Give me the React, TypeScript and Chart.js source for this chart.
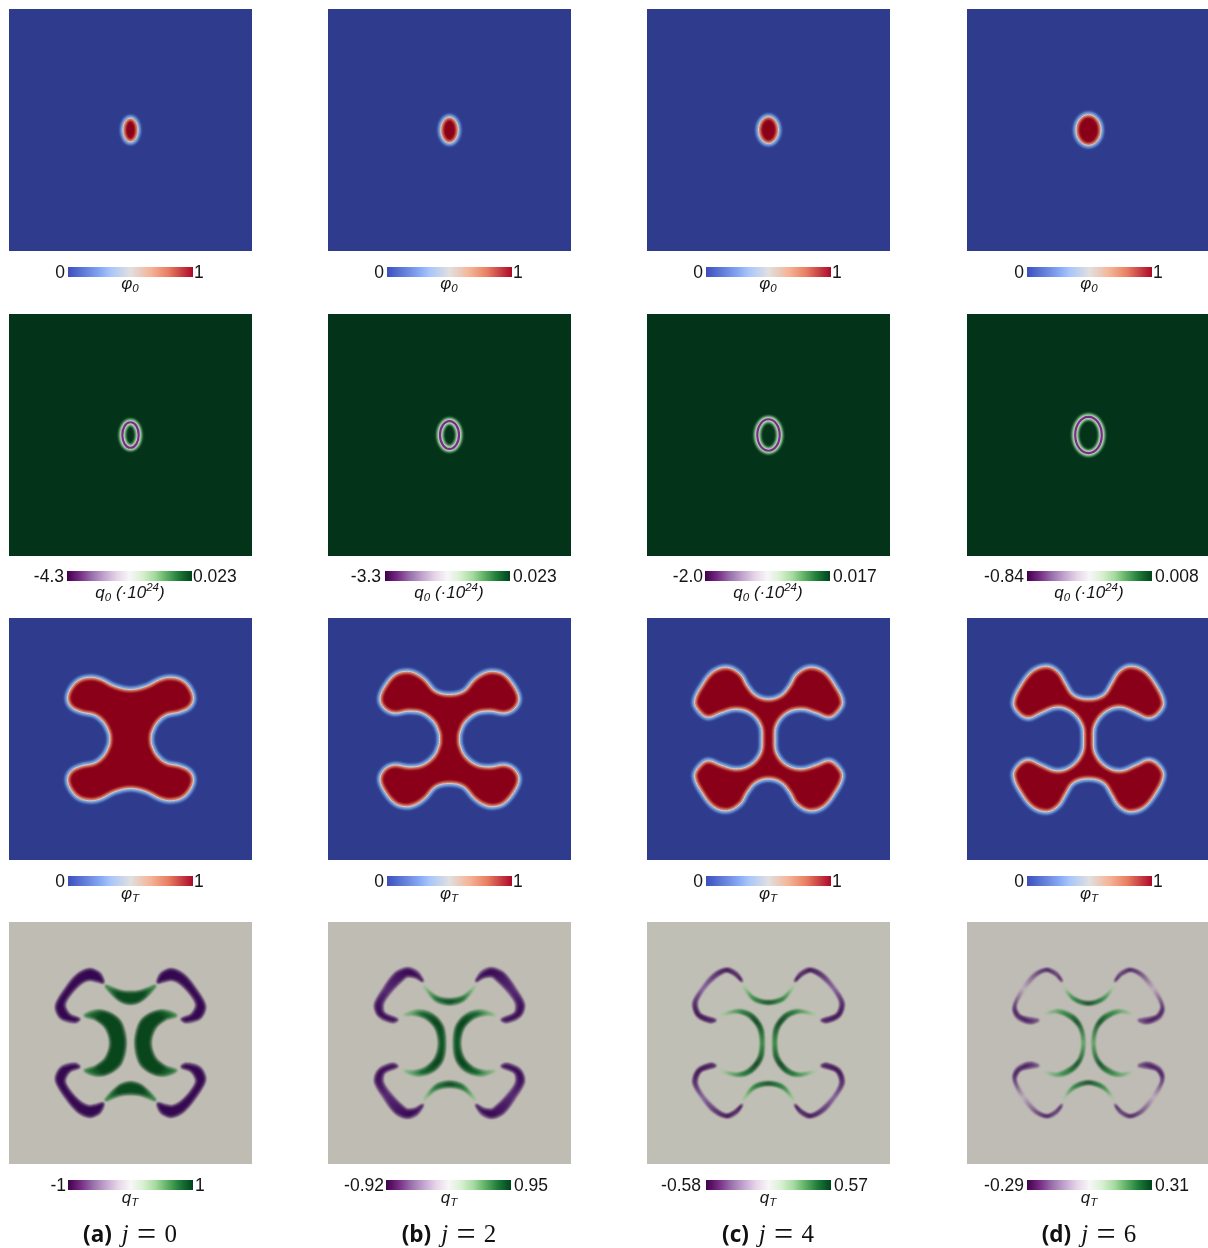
import React, { useEffect, useRef } from "react";
import { Chart, registerables } from "chart.js";

Chart.register(...registerables);

type Pt = number[];

// ---------- values (field units: one unit per image pixel of a panel) ----------
const columnLetters = ["a", "b", "c", "d"];
const snapshotIndex = [0, 2, 4, 6];

const phi0Quadrants: Pt[][] = [
  [[0, 12], [5.3, 8.5], [7.5, 0]],
  [[0, 13], [6.2, 9.2], [8.8, 0]],
  [[0, 13.5], [7, 9.6], [10, 0]],
  [[0, 15.5], [8.8, 11], [12.5, 0]],
];

const q0RingQuadrants: Pt[][] = [
  [[0, 12.8], [5.8, 9.1], [8.2, 0]],
  [[0, 14], [6.7, 9.9], [9.5, 0]],
  [[0, 15.8], [7.9, 11.2], [11.2, 0]],
  [[0, 18.2], [9.4, 12.9], [13.3, 0]],
];

const phiTQuadrantJ0: Pt[] = [[0, 49.7], [15.7, 53], [29, 59.7], [39, 62], [50.7, 59.7], [59, 52], [63, 41], [59, 32], [49, 27], [35.7, 24], [27, 17], [21.7, 7], [20.7, 0]];
const phiTQuadrantJ2: Pt[] = [[0, 44.7], [14, 48], [24, 59], [32, 65], [42, 68], [54, 65], [64, 54], [69.5, 41], [65.5, 31], [55.5, 26], [40.5, 28], [27, 26], [15.5, 17], [10.5, 6], [10, 0]];
const phiTQuadrantJ4: Pt[] = [[0, 40], [13, 44], [21.5, 54], [28, 65], [41, 72], [55, 68], [66.5, 54], [74, 37], [68, 26], [60, 21.7], [48, 26], [33, 30], [18, 26], [8, 14], [6.5, 0]];
const phiTQuadrantJ6: Pt[] = [[0, 40], [15, 44], [23, 55.7], [30, 67], [41, 73], [55, 69], [66.5, 55.7], [75, 37], [70, 26], [60, 21], [48, 26], [31.5, 32], [16.5, 27], [6.5, 14], [5, 0]];
const phiTQuadrants = [phiTQuadrantJ0, phiTQuadrantJ2, phiTQuadrantJ4, phiTQuadrantJ6];

const qTArmJ0: Pt[] = [[27, 60.8], [31, 70], [41, 74], [53, 68.5], [64.5, 55], [74.5, 37], [69.5, 25], [56, 21], [51, 24], [61, 28.5], [66, 38.5], [59.5, 50], [49.5, 60], [41, 63.5], [33, 62]];
const qTArmJ2: Pt[] = [[26.5, 62], [32, 71], [42, 75], [54, 70], [65.5, 55], [74.5, 38.5], [70.5, 27], [57, 21], [52, 23.5], [65.5, 30], [66.5, 40], [57, 53.5], [47, 63.5], [42, 67], [34, 66]];
const qTArmJ4: Pt[] = [[26.5, 62], [31.5, 70], [41.5, 74.5], [55, 68.5], [66.5, 55], [75, 40], [71, 27], [58, 21], [53, 23], [68, 28.5], [72, 40], [65, 53.5], [53, 66], [42, 72], [33, 68]];
const qTArmJ6: Pt[] = [[26.5, 62], [31.5, 70], [41.5, 74.5], [55, 68.5], [68, 52], [75, 35], [71, 25], [58, 20], [50, 23], [68, 27], [73, 37], [66.5, 50], [53, 67], [42, 72.5], [33, 68.5]];
const qTArms = [qTArmJ0, qTArmJ2, qTArmJ4, qTArmJ6];

const qTTopJ0: Pt[] = [[0, 51], [9.5, 52], [18, 55], [25, 57.5], [19, 50], [9.5, 42], [0, 39.5]];
const qTTopJ2: Pt[] = [[0, 44], [14, 47], [25.5, 57], [14, 43], [0, 39]];
const qTTopJ4: Pt[] = [[0, 42], [15, 46], [25, 57], [15, 43.5], [0, 39.5]];
const qTTopJ6: Pt[] = [[0, 41], [15, 46], [25, 56], [15, 43.5], [0, 38.5]];
const qTTops = [qTTopJ0, qTTopJ2, qTTopJ4, qTTopJ6];

const qTSideJ0: Pt[] = [[5, 0], [9.5, 20], [19.5, 29], [33, 32.5], [46, 27.5], [34.5, 23.5], [24.5, 15], [20, 0]];
const qTSideJ2: Pt[] = [[4.5, 0], [7, 17], [17, 28.5], [32, 32.5], [45.5, 28], [35.5, 28.5], [24, 25], [14, 15], [10.5, 0]];
const qTSideJ4: Pt[] = [[5, 0], [6.5, 15], [16.5, 28.5], [30, 33], [46.5, 28.5], [31.5, 31], [20, 27], [10, 15], [7.5, 0]];
const qTSideJ6: Pt[] = [[4, 0], [6.5, 15], [15, 27], [30, 33], [43, 29.5], [31.5, 31], [18, 25], [9, 15], [6, 0]];
const qTSides = [qTSideJ0, qTSideJ2, qTSideJ4, qTSideJ6];

const qTBackgrounds = ["#bfbcb4", "#bfbcb4", "#c0bfb5", "#bfbcb5"];
const qTThicken = [1.2, 1.1, 1.5, 1.3];
const qTSoftness = [0.9, 0.85, 0.8, 0.8];

const armStopColors = [
  ["#3a0c52", "#340850", "#380a52", "#340850", "#3a0c52"],
  ["#6c4a84", "#3a0a55", "#55296f", "#3a0a55", "#6c4a84"],
  ["#93779f", "#38084f", "#82609a", "#38084f", "#93779f"],
  ["#b5a5b6", "#42135c", "#bcabba", "#42135c", "#b5a5b6"],
];
const topStopColors = [
  ["#0a4a1e", "#0a4a1e", "#2d7f3d"],
  ["#0d4d22", "#1e7335", "#82c07e"],
  ["#0a4a1e", "#2a8540", "#8fc78a"],
  ["#07401a", "#2a8540", "#9dc798"],
];
const sideStopColors = [
  ["#0a461c", "#0a461c", "#0a461c", "#2d7f3d"],
  ["#0f5a28", "#0a461c", "#16672e", "#87c282"],
  ["#2f8a40", "#07401a", "#1b7233", "#98c892"],
  ["#5aa562", "#0a4a1e", "#2f8a40", "#adc9a4"],
];

const phiBarMin = [0, 0, 0, 0];
const phiBarMax = [1, 1, 1, 1];
const phiMinLabels = ["0", "0", "0", "0"];
const phiMaxLabels = ["1", "1", "1", "1"];
const q0BarMin = [-4.3, -3.3, -2.0, -0.84];
const q0BarMax = [0.023, 0.023, 0.017, 0.008];
const q0MinLabels = ["-4.3", "-3.3", "-2.0", "-0.84"];
const q0MaxLabels = ["0.023", "0.023", "0.017", "0.008"];
const qTBarMin = [-1, -0.92, -0.58, -0.29];
const qTBarMax = [1, 0.95, 0.57, 0.31];
const qTMinLabels = ["-1", "-0.92", "-0.58", "-0.29"];
const qTMaxLabels = ["1", "0.95", "0.57", "0.31"];

const coolWarm = ["#3c4fbe", "#83a5f2", "#a8c5fb", "#e0e0e0", "#f5b497", "#e97f63", "#ac0a28"];
const coolWarmStops = [0, 0.25, 0.34, 0.5, 0.66, 0.8, 1];
const purpleGreen = ["#40004b", "#762a83", "#9970ab", "#c2a5cf", "#e7d4e8", "#f7f7f7", "#d9f0d3", "#a6dba0", "#5aae61", "#1b7837", "#00441b"];
const purpleGreenStops = [0, 0.1, 0.2, 0.3, 0.4, 0.5, 0.6, 0.7, 0.8, 0.9, 1];

// ---------- layout ----------
const panelLeft = [9, 328, 647, 967];
const panelTop = [9, 314, 618, 922];
const panelSize = 243;
const barWidth = 125;
const barHeight = 10;
const barGutter = 60;
const barPad = 18;
const barLeftByRow = [
  [68, 387, 706, 1027],
  [67, 385, 705, 1027],
  [68, 387, 706, 1027],
  [68, 386, 706, 1027],
];
const barTopByRow = [267, 571, 876, 1180];
const leftGapByRow = [
  [3, 3, 3, 3],
  [3, 4, 2, 3],
  [3, 3, 3, 3],
  [2, 2, 5, 3],
];
const rightGapByRow = [
  [1, 1, 1, 1],
  [1, 3, 3, 3],
  [1, 1, 1, 1],
  [2, 3, 3, 3],
];
const symbolCenters = [130, 449, 768, 1089];
const symbolTops = [274, 583, 884, 1188];

// ---------- geometry helpers (mirror the points read from one quadrant) ----------
const flip = (pts: Pt[], sx: number, sy: number): Pt[] => pts.map(([x, y]) => [x * sx, y * sy]);
const fullLoop = (q: Pt[]): Pt[] => [
  ...q,
  ...flip(q.slice(0, -1).reverse(), 1, -1),
  ...flip(q.slice(1), -1, -1),
  ...flip(q.slice(1, -1).reverse(), -1, 1),
];
const mirrorAcrossY = (q: Pt[]): Pt[] => [...q, ...flip(q.slice(1, -1).reverse(), -1, 1)];
const mirrorAcrossX = (q: Pt[]): Pt[] => [...q, ...flip(q.slice(1, -1).reverse(), 1, -1)];
const toXY = (pts: Pt[]) => pts.map(([x, y]) => ({ x, y }));

// ---------- plugin: closed smooth shapes, soft edges ----------
const fieldLayers = {
  id: "fieldLayers",
  beforeDatasetDraw(chart: any, args: any) {
    const ds = chart.data.datasets[args.index];
    const line = args.meta.dataset;
    const ctx = chart.ctx;
    ctx.save();
    line._loop = true;
    line._fullLoop = true;
    line._pointsUpdated = false;
    delete line._segments;
    delete line._path;
    line.updateControlPoints(chart.chartArea, "x");
    if (ds.inside) {
      ctx.beginPath();
      line.path(ctx);
      ctx.closePath();
      ctx.clip();
    }
    ctx.filter = ds.softness ? `blur(${ds.softness}px)` : "none";
    if (ds.area) {
      let style = ds.area;
      if (typeof ds.area !== "string") {
        const sx = chart.scales.x;
        const sy = chart.scales.y;
        const px = (p: Pt) => [sx.getPixelForValue(p[0]), sy.getPixelForValue(p[1])];
        let g;
        if (ds.area.center) {
          const [cx, cy] = px(ds.area.center);
          const r = Math.abs(sx.getPixelForValue(ds.area.radius) - sx.getPixelForValue(0));
          g = ctx.createRadialGradient(cx, cy, 0, cx, cy, r);
        } else {
          const [ax, ay] = px(ds.area.from);
          const [bx, by] = px(ds.area.to);
          g = ctx.createLinearGradient(ax, ay, bx, by);
        }
        ds.area.stops.forEach((s: number, i: number) => g.addColorStop(s, ds.area.colors[i]));
        style = g;
      }
      ctx.beginPath();
      line.path(ctx);
      ctx.closePath();
      ctx.fillStyle = style;
      if (ds.thicken) {
        ctx.lineJoin = "round";
        ctx.lineWidth = ds.thicken;
        ctx.strokeStyle = style;
        ctx.stroke();
      }
      ctx.fill();
    }
  },
  afterDatasetDraw(chart: any) {
    chart.ctx.restore();
  },
};

const layer = (pts: Pt[], o: any) => ({
  data: toXY(pts),
  showLine: true,
  pointRadius: 0,
  pointHoverRadius: 0,
  fill: false,
  tension: o.tension ?? 0.4,
  borderWidth: o.width ?? 0,
  borderColor: o.stroke ?? "transparent",
  area: o.area,
  softness: o.soft,
  inside: o.inside,
  thicken: o.thicken,
});

const blobLayers = (outline: Pt[]) => [
  layer(outline, { width: 6.5, stroke: "#4f78c4", soft: 1.3 }),
  layer(outline, { width: 3.6, stroke: "#93b3e0", soft: 1 }),
  layer(outline, { area: "#8a0019", soft: 0.4 }),
  layer(outline, { width: 5.5, stroke: "#c04a3a", soft: 1, inside: true }),
  layer(outline, { width: 2.6, stroke: "#e6a088", soft: 0.8, inside: true }),
  layer(outline, { width: 1, stroke: "#cdd0d2", soft: 0.7 }),
];

const ringLayers = (outline: Pt[]) => [
  layer(outline, { width: 7.5, stroke: "#5fa56a", soft: 1.2 }),
  layer(outline, { width: 4.2, stroke: "#d5e0d2", soft: 0.8 }),
  layer(outline, { width: 2.2, stroke: "#7a2c88", soft: 0.45 }),
];

const crescentLayers = (j: number) => {
  const out: any[] = [];
  const arm = qTArms[j];
  const top = mirrorAcrossY(qTTops[j]);
  const side = mirrorAcrossX(qTSides[j]);
  const soft = qTSoftness[j];
  const thicken = qTThicken[j];
  for (const [sx, sy] of [[1, 1], [-1, 1], [1, -1], [-1, -1]]) {
    out.push(
      layer(flip(arm, sx, sy), {
        tension: 0.3,
        soft,
        thicken,
        area: {
          from: [28 * sx, 76 * sy],
          to: [76 * sx, 20 * sy],
          stops: [0, 0.14, 0.55, 0.87, 1],
          colors: armStopColors[j],
        },
      })
    );
  }
  for (const sy of [1, -1]) {
    out.push(
      layer(flip(top, 1, sy), {
        tension: 0.3,
        soft,
        thicken,
        area: { center: [0, 41 * sy], radius: 27, stops: [0, 0.55, 1], colors: topStopColors[j] },
      })
    );
  }
  for (const sx of [1, -1]) {
    out.push(
      layer(flip(side, sx, 1), {
        tension: 0.3,
        soft,
        thicken,
        area: { center: [5 * sx, 0], radius: 49, stops: [0, 0.45, 0.75, 1], colors: sideStopColors[j] },
      })
    );
  }
  return out;
};

// ---------- chart configs ----------
const panelConfig = (datasets: any[]) => ({
  type: "scatter",
  data: { datasets: [...datasets].reverse() },
  options: {
    animation: false,
    responsive: false,
    events: [],
    layout: { padding: 0 },
    plugins: { legend: { display: false }, tooltip: { enabled: false } },
    scales: {
      x: { type: "linear", display: false, min: -panelSize / 2, max: panelSize / 2 },
      y: { type: "linear", display: false, min: -panelSize / 2, max: panelSize / 2 },
    },
  },
  plugins: [fieldLayers],
});

const colorbarConfig = (
  min: number,
  max: number,
  minLabel: string,
  maxLabel: string,
  colors: string[],
  stops: number[],
  leftGap: number,
  rightGap: number
) => {
  const font = { family: '"Liberation Sans", Arial, sans-serif', size: 17.5 };
  const fixWidth = (s: any) => {
    s.width = barGutter;
  };
  return {
    type: "bar",
    data: {
      labels: [minLabel],
      datasets: [
        {
          data: [[min, max]],
          barPercentage: 1,
          categoryPercentage: 1,
          borderWidth: 0,
          backgroundColor: (c: any) => {
            const a = c.chart.chartArea;
            if (!a) return colors[0];
            const g = c.chart.ctx.createLinearGradient(a.left, 0, a.right, 0);
            stops.forEach((s, i) => g.addColorStop(s, colors[i]));
            return g;
          },
        },
      ],
    },
    options: {
      indexAxis: "y",
      animation: false,
      responsive: false,
      events: [],
      layout: { padding: { top: barPad, bottom: barPad, left: 0, right: 0 } },
      plugins: { legend: { display: false }, tooltip: { enabled: false } },
      scales: {
        x: { type: "linear", display: false, min, max },
        y: {
          type: "category",
          position: "left",
          afterFit: fixWidth,
          grid: { display: false, drawTicks: false },
          border: { display: false },
          ticks: { font, color: "#151515", padding: leftGap, autoSkip: false, labelOffset: 1 },
        },
        y2: {
          type: "category",
          position: "right",
          labels: [maxLabel],
          afterFit: fixWidth,
          grid: { display: false, drawTicks: false },
          border: { display: false },
          ticks: { font, color: "#151515", padding: rightGap, autoSkip: false, labelOffset: 1 },
        },
      },
    },
  };
};

// ---------- components ----------
function ChartCanvas({ left, top, width, height, config }: any) {
  const ref = useRef<HTMLCanvasElement>(null);
  useEffect(() => {
    const chart = new Chart(ref.current as any, config());
    return () => chart.destroy();
  }, []);
  return (
    <canvas
      ref={ref}
      width={width}
      height={height}
      style={{ position: "absolute", left, top, width, height }}
    />
  );
}

const Symbol = ({ x, y, base, sub, extra }: any) => (
  <div
    style={{
      position: "absolute",
      left: x - 100,
      top: y,
      width: 200,
      textAlign: "center",
      fontFamily: '"Liberation Sans", Arial, sans-serif',
      fontStyle: "italic",
      fontSize: 17,
      lineHeight: "20px",
      color: "#151515",
      whiteSpace: "nowrap",
    }}
  >
    {base}
    <span style={{ fontSize: 11.5, position: "relative", top: 3 }}>{sub}</span>
    {extra}
  </div>
);

const Caption = ({ x, letter, j }: any) => (
  <div
    style={{
      position: "absolute",
      left: x - 100,
      top: 1220,
      width: 200,
      textAlign: "center",
      color: "#111",
      whiteSpace: "nowrap",
      lineHeight: "28px",
    }}
  >
    <span style={{ fontFamily: '"Open Sans", sans-serif', fontWeight: 700, fontSize: 22.5 }}>({letter})</span>
    <span style={{ fontFamily: '"Liberation Serif", serif', fontSize: 25, marginLeft: 10, wordSpacing: 2 }}>
      <i>j</i>{" "}
      <span style={{ fontSize: 34, lineHeight: 0, position: "relative", top: 3 }}>=</span> {j}
    </span>
  </div>
);

const rowBars = [
  { min: phiBarMin, max: phiBarMax, minL: phiMinLabels, maxL: phiMaxLabels, colors: coolWarm, stops: coolWarmStops },
  { min: q0BarMin, max: q0BarMax, minL: q0MinLabels, maxL: q0MaxLabels, colors: purpleGreen, stops: purpleGreenStops },
  { min: phiBarMin, max: phiBarMax, minL: phiMinLabels, maxL: phiMaxLabels, colors: coolWarm, stops: coolWarmStops },
  { min: qTBarMin, max: qTBarMax, minL: qTMinLabels, maxL: qTMaxLabels, colors: purpleGreen, stops: purpleGreenStops },
];

const rowBackgrounds = (row: number, j: number) =>
  row === 0 || row === 2 ? "#2f3c8e" : row === 1 ? "#03341a" : qTBackgrounds[j];

const rowLayers = (row: number, j: number) => {
  if (row === 0) return blobLayers(fullLoop(phi0Quadrants[j]));
  if (row === 1) return ringLayers(fullLoop(q0RingQuadrants[j]));
  if (row === 2) return blobLayers(fullLoop(phiTQuadrants[j]));
  return crescentLayers(j);
};

const symbolFor = (row: number) => {
  if (row === 0) return { base: "φ", sub: "0" };
  if (row === 1) return { base: "q", sub: "0", extra: <> (·10<sup style={{ fontSize: 11.5, lineHeight: 0 }}>24</sup>)</> };
  if (row === 2) return { base: "φ", sub: "T" };
  return { base: "q", sub: "T" };
};

export default function App() {
  const rows = [0, 1, 2, 3];
  const cols = [0, 1, 2, 3];
  return (
    <div
      style={{
        position: "absolute",
        left: 0,
        top: 0,
        width: 1208,
        height: 1248,
        overflow: "hidden",
        background: "#fff",
      }}
    >
      {rows.map((row) =>
        cols.map((j) => (
          <React.Fragment key={`${row}-${j}`}>
            <div
              style={{
                position: "absolute",
                left: panelLeft[j],
                top: panelTop[row],
                width: panelSize,
                height: panelSize - 1,
                background: rowBackgrounds(row, j),
              }}
            >
              <ChartCanvas
                left={0}
                top={0}
                width={panelSize}
                height={panelSize - 1}
                config={() => panelConfig(rowLayers(row, j))}
              />
            </div>
            <ChartCanvas
              left={barLeftByRow[row][j] - barGutter}
              top={barTopByRow[row] - barPad}
              width={barWidth + 2 * barGutter}
              height={barHeight + 2 * barPad}
              config={() =>
                colorbarConfig(
                  rowBars[row].min[j],
                  rowBars[row].max[j],
                  rowBars[row].minL[j],
                  rowBars[row].maxL[j],
                  rowBars[row].colors,
                  rowBars[row].stops,
                  leftGapByRow[row][j],
                  rightGapByRow[row][j]
                )
              }
            />
            <Symbol x={symbolCenters[j]} y={symbolTops[row]} {...symbolFor(row)} />
          </React.Fragment>
        ))
      )}
      {cols.map((j) => (
        <Caption key={j} x={symbolCenters[j]} letter={columnLetters[j]} j={snapshotIndex[j]} />
      ))}
    </div>
  );
}
